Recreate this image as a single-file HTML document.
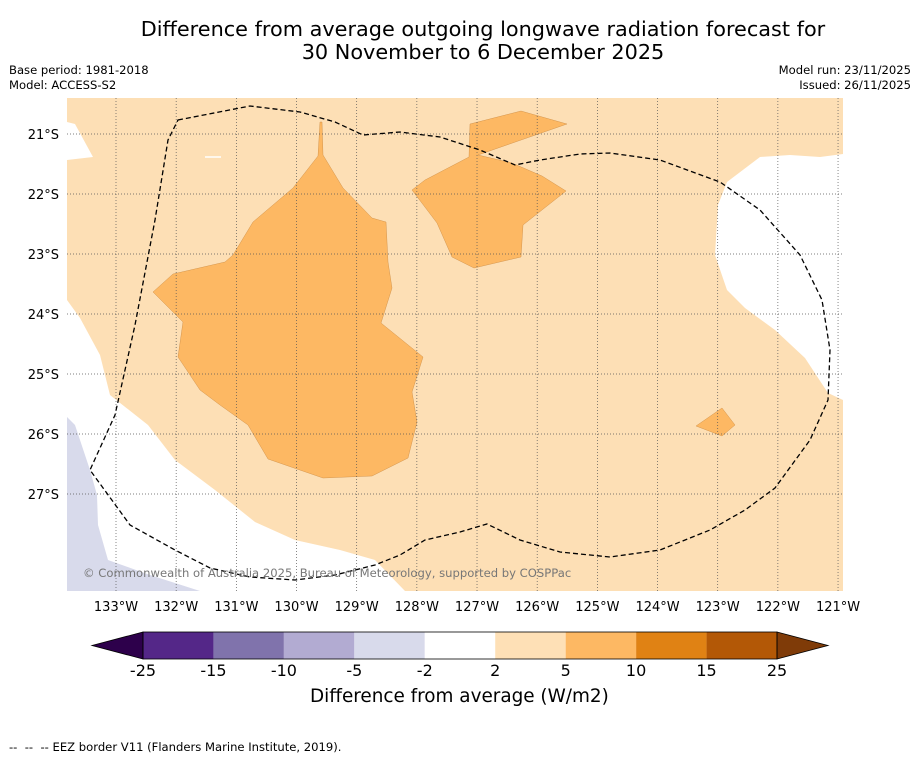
<!DOCTYPE html>
<html><head><meta charset="utf-8">
<style>
body{margin:0;background:#fff;font-family:"DejaVu Sans","Liberation Sans",sans-serif;}
#wrap{position:relative;width:919px;height:758px;background:#fff;overflow:hidden;}
.t{position:absolute;white-space:pre;color:#000;}
svg text{font-family:"DejaVu Sans","Liberation Sans",sans-serif;}
</style></head>
<body>
<div id="wrap">
<div class="t" style="left:0;width:966px;text-align:center;top:18px;font-size:20.8px;line-height:23px;">Difference from average outgoing longwave radiation forecast for
30 November to 6 December 2025</div>
<div class="t" style="left:9px;top:63px;font-size:11.6px;line-height:15px;">Base period: 1981-2018
Model: ACCESS-S2</div>
<div class="t" style="right:8px;top:63px;font-size:11.6px;line-height:15px;text-align:right;">Model run: 23/11/2025
Issued: 26/11/2025</div>
<div class="t" style="left:310px;top:686px;font-size:18.4px;">Difference from average (W/m2)</div>
<div class="t" style="left:9px;top:740px;font-size:11.6px;">--  --  -- EEZ border V11 (Flanders Marine Institute, 2019).</div>
<svg id="svg" width="919" height="758" style="position:absolute;left:0;top:0"></svg>
</div>
<script>
const lonTicks=[133,132,131,130,129,128,127,126,125,124,123,122,121];
const latTicks=[21,22,23,24,25,26,27];
const cbLevels=[-25,-15,-10,-5,-2,2,5,10,15,25];
const cbColors=["#542788","#8073ac","#b2abd2","#d8daeb","#ffffff","#fee0b6","#fdb863","#e08214","#b35806"];
const cbLow="#2d004b", cbHigh="#7f3b08";
const NS="http://www.w3.org/2000/svg";
const svg=document.getElementById('svg');
function mk(tag,attrs,name,parent){const e=document.createElementNS(NS,tag);for(const k in attrs)e.setAttribute(k,attrs[k]);


(parent||svg).appendChild(e);return e;}
const X0=67,X1=843,Y0=98,Y1=591;
const xLon=l=>116+(133-l)*60.17;
const yLat=l=>134+(l-21)*60;
mk('rect',{x:X0,y:Y0,width:X1-X0,height:Y1-Y0,fill:'#fddfb5'},'map-background');
const P=(pts,fill,name)=>mk('polygon',{points:pts,fill:fill,stroke:fill==='#fdb863'?'#c9883f':'none','stroke-width':0.4},name);
P("67,98 67,122 75,124 93,157 67,160",'#ffffff','white-region-nw');
P("67,300 80,318 100,355 110,395 148,425 175,460 215,490 255,522 295,540 340,550 375,560 405,591 67,591",'#ffffff','white-region-sw');
P("67,417 75,425 90,470 97,495 98,525 108,560 150,575 200,591 67,591",'#d8daeb','lavender-region');
P("727,182 760,157 790,155 820,157 843,154 843,400 828,393 805,358 775,330 745,308 727,290 715,255 718,205",'#ffffff','white-region-east');
P("320,122 322,122 323,155 343,188 372,218 386,222 388,262 392,288 381,323 423,357 412,392 417,422 408,458 372,476 323,478 268,459 248,425 220,405 200,390 178,357 183,322 153,292 173,274 225,262 233,255 253,222 293,188 318,156",'#fdb863','anomaly-west');
P("470,124 521,111 567,124 478,155 512,163 542,176 566,191 523,225 521,257 474,268 452,257 437,223 412,190 425,180 469,157",'#fdb863','anomaly-north');
P("696,426 722,408 735,425 722,436",'#fdb863','anomaly-east');
mk('line',{x1:205,y1:157,x2:221,y2:157,stroke:'#fff','stroke-width':1.5},'small-patch');
lonTicks.forEach(l=>{const x=xLon(l);
mk('line',{x1:x,y1:Y0,x2:x,y2:Y1,stroke:'#555','stroke-width':0.7,'stroke-dasharray':'1,2'},'lon-gridline');
const t=mk('text',{x:x,y:611,'text-anchor':'middle','font-size':13,fill:'#000'},'lon-tick-label');t.textContent=l+'°W';});
latTicks.forEach(l=>{const y=yLat(l);
mk('line',{x1:X0,y1:y,x2:X1,y2:y,stroke:'#555','stroke-width':0.7,'stroke-dasharray':'1,2'},'lat-gridline');
const t=mk('text',{x:59,y:y+5,'text-anchor':'end','font-size':13,fill:'#000'},'lat-tick-label');t.textContent=l+'°S';});
mk('path',{d:"M178,120 L250,106 300,112 335,122 363,135 400,132 440,137 480,150 515,165 540,160 580,154 610,153 660,160 720,182 760,210 800,255 822,300 830,350 828,400 810,440 775,488 745,510 710,530 660,550 610,557 560,552 520,540 487,524 460,532 425,540 400,555 375,565 335,575 295,580 250,577 210,568 175,550 130,525 90,470 115,415 135,325 155,220 168,140 Z",fill:'none',stroke:'#000','stroke-width':1.3,'stroke-dasharray':'5,3'},'eez-border');
const cr=mk('text',{x:83,y:577,'font-size':11.6,fill:'#777'},'copyright');cr.textContent='© Commonwealth of Australia 2025, Bureau of Meteorology, supported by COSPPac';
const CB0=143,CB1=777,CBY=632,CBH=27;
const cw=(CB1-CB0)/(cbLevels.length-1);
const cx=i=>CB0+i*cw;
cbColors.forEach((c,i)=>mk('rect',{x:cx(i),y:CBY,width:cw,height:CBH,fill:c},'colorbar-segment'));
mk('polygon',{points:`${CB0},${CBY} ${CB0},${CBY+CBH} 92,${CBY+CBH/2}`,fill:cbLow,stroke:'#000','stroke-width':0.8},'colorbar-low-extend');
mk('polygon',{points:`${CB1},${CBY} ${CB1},${CBY+CBH} 828,${CBY+CBH/2}`,fill:cbHigh,stroke:'#000','stroke-width':0.8},'colorbar-high-extend');
mk('rect',{x:CB0,y:CBY,width:CB1-CB0,height:CBH,fill:'none',stroke:'#000','stroke-width':0.8},'colorbar-frame');
cbLevels.forEach((v,i)=>{const t=mk('text',{x:cx(i),y:676,'text-anchor':'middle','font-size':16,fill:'#000'},'colorbar-tick-label');t.textContent=v;});
</script>
</body></html>
